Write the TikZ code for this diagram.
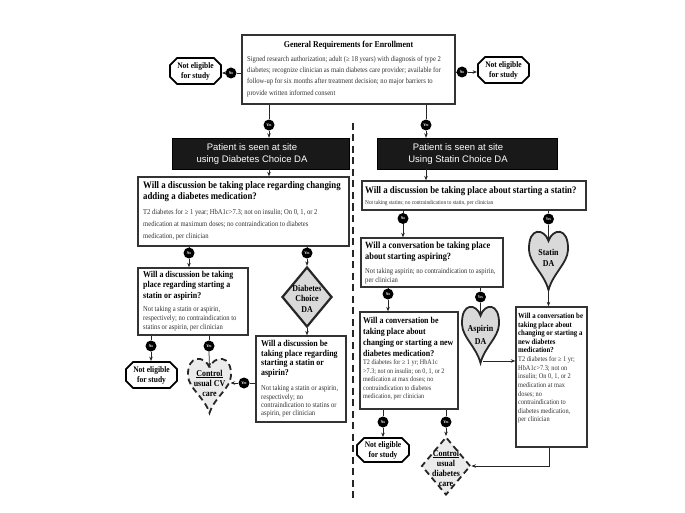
\documentclass[tikz,border=0pt]{standalone}
\usepackage{fontspec}
\setmainfont{Liberation Serif}[FakeStretch=0.88]
\newfontfamily\sansf{Liberation Sans}
\usetikzlibrary{shapes.geometric,shapes.misc,arrows.meta}
\newcommand\fsz[2]{\fontsize{#1}{#2}\selectfont}
\tikzset{
  ln/.style={draw=black!85, line width=0.75pt},
  arr/.style={ln, -{Stealth[length=4.5pt,width=3.5pt]}},
  qbox/.style={draw=black!80, line width=1.3pt, fill=white, inner sep=0},
  blk/.style={fill=black!90, draw=black, inner sep=0},
  blkt/.style={text=white, font=\sansf\fsz{9.5}{12}, align=center, inner sep=0},
  ttl/.style 2 args={anchor=west, inner sep=0, align=left, font=\bfseries\fsz{#1}{#2}},
  bdy/.style 2 args={anchor=west, inner sep=0, align=left, text=black!80, font=\fsz{#1}{#2}},
  yn/.style={circle, fill=black, inner sep=0, minimum size=11pt, text=white, font=\bfseries\fsz{4}{4.5}},
  ne/.style={chamfered rectangle, chamfered rectangle xsep=4pt, draw=black, line width=1.8pt, fill=white, minimum width=51pt, minimum height=26pt, inner sep=0, align=center, font=\bfseries\fsz{8.5}{10}},
  shp/.style={draw=black!85, line width=1.8pt, fill=black!15},
  ctl/.style={draw=black!85, line width=1.8pt, fill=black!8, dash pattern=on 6pt off 4pt},
  shtxt/.style={inner sep=0, align=center, font=\bfseries\fsz{9}{#1}},
  heart/.pic={\path[pic actions] (0,-0.36) .. controls (-0.1,-0.58) and (-0.52,-0.62) .. (-0.5,-0.2) .. controls (-0.48,0.04) and (-0.12,0.2) .. (0,0.5) .. controls (0.12,0.2) and (0.48,0.04) .. (0.5,-0.2) .. controls (0.52,-0.62) and (0.1,-0.58) .. (0,-0.36) -- cycle;},
}
\begin{document}
\begin{tikzpicture}[x=1pt,y=-1pt]
\path[use as bounding box, fill=white] (0,0) rectangle (685,513);

% top box
\node[qbox, line width=1.8pt, minimum width=213pt, minimum height=69pt] (gen) at (348.5,69.5) {};
\node[inner sep=0, font=\bfseries\fsz{9}{10}] (gent) at (348.5,45) {General Requirements for Enrollment};
\node[bdy={7.5}{11.3}] (genb) at (247,76.5) {Signed research authorization; adult (≥ 18 years) with diagnosis of type 2\\diabetes; recognize clinician as main diabetes care provider; available for\\follow-up for six months after treatment decision; no major barriers to\\provide written informed consent};
\node[ne] (ne0l) at (195.5,71) {Not eligible\\for study};
\node[ne] (ne0r) at (503.5,70) {Not eligible\\for study};
\node[yn] (n0l) at (231,73) {No};
\node[yn] (n0r) at (462,72) {No};
\draw[ln] (gen.west |- n0l) -- (n0l.east);
\draw[arr] (n0l.west) -- (n0l.west -| ne0l.east);
\draw[ln] (gen.east |- n0r) -- (n0r.west);
\draw[arr] (n0r.east) -- (n0r.east -| ne0r.west);

% dashed separator
\draw[black!85, line width=1.7pt, dash pattern=on 7pt off 4.5pt] (353,123) -- (353,500);

% black boxes
\node[yn] (y0l) at (269,125) {Yes};
\node[yn] (y0r) at (426,125) {Yes};
\node[blk, minimum width=177pt, minimum height=31pt] (pl) at (260.5,153.5) {};
\node[blkt] (plt) at (252,154) {Patient is seen at site\\using Diabetes Choice DA};
\node[blk, minimum width=180pt, minimum height=31pt] (pr) at (467,153.5) {};
\node[blkt] (prt) at (458,154) {Patient is seen at site\\Using Statin Choice DA};
\draw[ln] (gen.south -| y0l) -- (y0l.north);
\draw[arr] (y0l.south) -- (y0l.south |- pl.north);
\draw[ln] (gen.south -| y0r) -- (y0r.north);
\draw[arr] (y0r.south) -- (y0r.south |- pr.north);

% left column
\node[qbox, minimum width=211pt, minimum height=69pt] (q1l) at (243.5,211.5) {};
\draw[arr] (pl.south -| y0l) -- (q1l.north -| y0l);
\node[ttl={10}{11.3}] (q1lt) at (143,191.5) {Will a discussion be taking place regarding changing\\adding a diabetes medication?};
\node[bdy={7.5}{12}] (q1lb) at (143,224.5) {T2 diabetes for ≥ 1 year; HbA1c>7.3; not on insulin; On 0, 1, or 2\\medication at maximum doses; no contraindication to diabetes\\medication, per clinician};

\node[yn] (n1l) at (189,253) {No};
\node[yn] (y1l) at (307,253) {Yes};
\node[qbox, minimum width=110pt, minimum height=67pt] (q2l) at (193,301.5) {};
\node[ttl={9}{10.5}] (q2lt) at (143,285.5) {Will a discussion be taking\\place regarding starting a\\statin or aspirin?};
\node[bdy={7.5}{9.3}] (q2lb) at (143,318.5) {Not taking a statin or aspirin,\\respectively; no contraindication to\\statins or aspirin, per clinician};
\node[diamond, shp, line width=2.2pt, minimum width=50pt, minimum height=60pt, inner sep=0] (dcd) at (307,297) {};
\node[shtxt=10.5] (dcdt) at (307,298.5) {Diabetes\\Choice\\DA};
\draw[ln] (q1l.south -| n1l) -- (n1l.north);
\draw[arr] (n1l.south) -- (n1l.south |- q2l.north);
\draw[ln] (q1l.south -| y1l) -- (y1l.north);
\draw[arr] (y1l.south) -- (dcd.north);

\node[qbox, minimum width=90pt, minimum height=86pt] (q3l) at (301,379) {};
\node[ttl={9}{9.7}] (q3lt) at (261,358.8) {Will a discussion be\\taking place regarding\\starting a statin or\\aspirin?};
\node[bdy={7.5}{8.4}] (q3lb) at (261,401.5) {Not taking a statin or aspirin,\\respectively; no\\contraindication to statins or\\aspirin, per clinician};
\draw[arr] (dcd.south) -- (dcd.south |- q3l.north);

\node[yn] (n2l) at (151,346) {No};
\node[yn] (y2l) at (209,346) {Yes};
\node[ne] (ne2l) at (151.5,375) {Not eligible\\for study};
\pic[ctl, xscale=43, yscale=53] at (209.5,386.5) {heart};
\node[shtxt=10] (cvt) at (209.5,383) {\underline{Control}\\usual CV\\care};
\coordinate (cv-in) at (209.5,367.5);
\coordinate (cv-r) at (230.5,383);
\draw[ln] (q2l.south -| n2l) -- (n2l.north);
\draw[arr] (n2l.south) -- (n2l.south |- ne2l.north);
\draw[ln] (q2l.south -| y2l) -- (y2l.north);
\draw[arr] (y2l.south) -- (cv-in);
\node[yn] (y3l) at (244,383) {Yes};
\draw[ln] (q3l.west |- y3l) -- (y3l.east);
\draw[arr] (y3l.west) -- (cv-r);

% right column
\node[qbox, minimum width=224pt, minimum height=29pt] (q1r) at (474,195.5) {};
\draw[arr] (pr.south -| y0r) -- (q1r.north -| y0r);
\node[ttl={10}{11}] (q1rt) at (365,191) {Will a discussion be taking place about starting a statin?};
\node[bdy={6}{7}] (q1rb) at (365,203) {Not taking statins; no contraindication to statin, per clinician};
\node[yn] (n1r) at (403,218.5) {No};
\node[yn] (y1r) at (548.5,219) {Yes};
\node[qbox, minimum width=142pt, minimum height=49pt] (q2r) at (432,262.5) {};
\node[ttl={9.5}{11}] (q2rt) at (365,251.5) {Will a conversation be taking place\\about starting aspiring?};
\node[bdy={7.5}{8.5}] (q2rb) at (365,276) {Not taking aspirin; no contraindication to aspirin,\\per clinician};
\draw[ln] (q1r.south -| n1r) -- (n1r.north);
\draw[arr] (n1r.south) -- (n1r.south |- q2r.north);
\pic[shp, xscale=39, yscale=57] at (548.5,261.5) {heart};
\node[shtxt=11] (sdat) at (548.5,257.5) {Statin\\DA};
\coordinate (sda-in) at (548.5,241);
\coordinate (sda-out) at (548.5,290);
\draw[ln] (q1r.south -| y1r) -- (y1r.north);
\draw[arr] (y1r.south) -- (sda-in);

\node[yn] (n2r) at (388,294) {No};
\node[yn] (y2r) at (480.5,297) {Yes};
\node[qbox, minimum width=98pt, minimum height=97pt] (q4r) at (409,360.5) {};
\node[ttl={9}{11}] (q4rt) at (363,337) {Will a conversation be\\taking place about\\changing or starting a new\\diabetes medication?};
\node[bdy={7}{8.5}] (q4rb) at (363,380) {T2 diabetes for ≥ 1 yr; HbA1c\\>7.3; not on insulin; on 0, 1, or 2\\medication at max doses; no\\contraindication to diabetes\\medication, per clinician};
\pic[shp, xscale=37, yscale=55] at (480.5,335.5) {heart};
\node[shtxt=13] (adat) at (480.5,335) {Aspirin\\DA};
\coordinate (ada-in) at (480.5,315.7);
\coordinate (ada-out) at (483,361);
\draw[ln] (q2r.south -| n2r) -- (n2r.north);
\draw[arr] (n2r.south) -- (n2r.south |- q4r.north);
\draw[ln] (q2r.south -| y2r) -- (y2r.north);
\draw[arr] (y2r.south) -- (ada-in);

\node[qbox, minimum width=71pt, minimum height=140pt] (q3r) at (551.5,377) {};
\node[ttl={7.75}{8.5}] (q3rt) at (518,333.2) {Will a conversation be\\taking place about\\changing or starting a\\new diabetes\\medication?};
\node[bdy={7.2}{8.6}] (q3rb) at (518,390) {T2 diabetes for ≥ 1 yr;\\HbA1c>7.3; not on\\insulin; On 0, 1, or 2\\medication at max\\doses; no\\contraindication to\\diabetes medication,\\per clinician};
\draw[arr] (sda-out) -- (sda-out |- q3r.north);
\draw[arr] (ada-out) -- (ada-out -| q3r.west);

\node[yn] (n4r) at (383,422) {No};
\node[yn] (y4r) at (446,422) {Yes};
\node[ne, minimum width=52pt, minimum height=24pt] (ne4r) at (383,450) {Not eligible\\for study};
\node[diamond, ctl, minimum width=49pt, minimum height=58pt, inner sep=0] (cud) at (446,466) {};
\node[shtxt=10] (cudt) at (446,468) {\underline{Control}\\usual\\diabetes\\care};
\draw[ln] (q4r.south -| n4r) -- (n4r.north);
\draw[arr] (n4r.south) -- (n4r.south |- ne4r.north);
\draw[ln] (q4r.south -| y4r) -- (y4r.north);
\draw[arr] (y4r.south) -- (cud.north);
\draw[arr] ([xshift=-2.5pt]q3r.south) |- (cud.east);
\end{tikzpicture}
\end{document}
